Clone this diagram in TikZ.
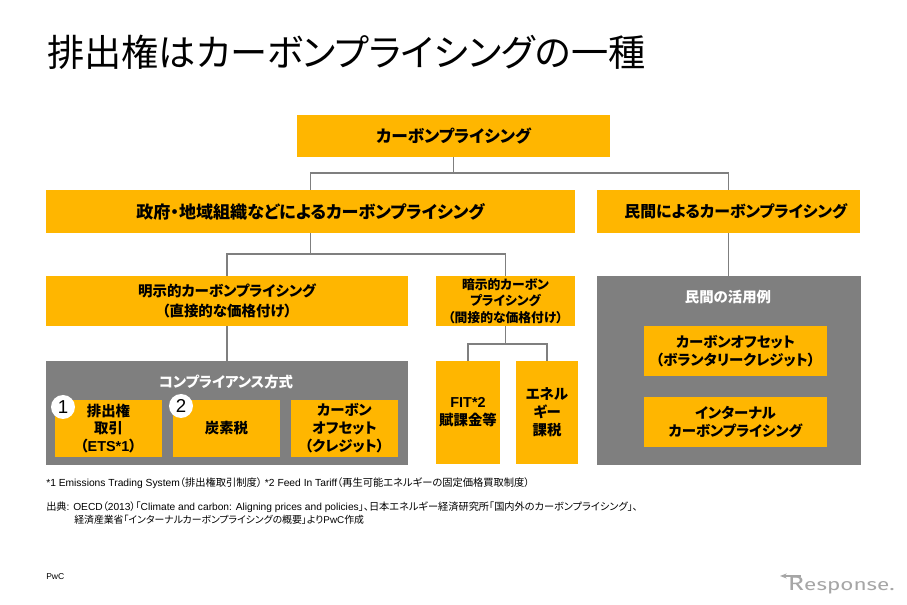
\documentclass[tikz,border=0pt]{standalone}
\usepackage{fontspec}
\usepackage{xcolor}
\setmainfont{Liberation Sans}
\newfontfamily\jpfont[RawFeature=+palt]{Noto Sans CJK JP}
\newfontfamily\logofont{Fira Sans}
\usetikzlibrary{positioning, arrows.meta}
\definecolor{pwcamber}{HTML}{FFB600}
\definecolor{pwcgray}{HTML}{7F7F7F}
\definecolor{logogray}{HTML}{A6A6A6}
\newcommand{\fs}[2]{\fontsize{#1}{#2}\selectfont}

\begin{document}
\begin{tikzpicture}[
  x=0.75pt, y=-0.75pt,
  box/.style={rectangle, fill=pwcamber, inner sep=0pt, align=center, font=\jpfont\bfseries\fs{10.8}{13.4}, text=black, minimum width=#1},
  box/.default=100pt,
  panel/.style={rectangle, fill=pwcgray, inner sep=0pt},
  paneltitle/.style={font=\jpfont\bfseries\fs{10.8}{13}, text=white, inner sep=0pt},
  badge/.style={circle, fill=white, inner sep=0pt, minimum size=18pt, font=\fs{14}{16}},
  note/.style={anchor=west, inner sep=0pt},
  conn/.style={draw=pwcgray, line width=1.3pt}
]
  \useasboundingbox (0,0) rectangle (907,605);

  % Title
  \node[anchor=west, inner sep=0pt, font=\jpfont\fs{27.9}{30}] (title) at (47,52) {排出権はカーボンプライシングの一種};

  % Top row
  \node[box=234.75pt, minimum height=31.5pt, font=\jpfont\bfseries\fs{12.5}{14}] (carbon) at (453.5,136) {カーボンプライシング};
  \node[box=396.75pt, minimum height=32.25pt, font=\jpfont\bfseries\fs{12.8}{14}] (gov) at (310.5,211.5) {政府・地域組織などによるカーボンプライシング};
  \node[box=197.25pt, minimum height=32.25pt, font=\jpfont\bfseries\fs{11.9}{14}] (private) at (728.5,211.5) {\hspace*{11pt}民間によるカーボンプライシング};

  % Explicit and implicit
  \node[box=271.5pt, minimum height=37.5pt, font=\jpfont\bfseries\fs{10.85}{15}] (explicit) at (227,301) {明示的カーボンプライシング\\（直接的な価格付け）};
  \node[box=104.25pt, minimum height=37.5pt, font=\jpfont\bfseries\fs{9.6}{12.4}] (implicit) at (505.5,301) {暗示的カーボン\\プライシング\\（間接的な価格付け）};

  % Compliance panel
  \node[panel, minimum width=271.5pt, minimum height=78pt] (compliance) at (227,413) {};
  \node[paneltitle] (compliancetitle) at (226,382) {コンプライアンス方式};
  \node[box=80.25pt, minimum height=42.75pt] (ets) at (108.5,428.5) {排出権\\取引\\（{\fontspec{Liberation Sans}\bfseries ETS*1}）};
  \node[box=80.25pt, minimum height=42.75pt] (tax) at (226.5,428.5) {炭素税};
  \node[box=80.25pt, minimum height=42.75pt] (credit) at (344.5,428.5) {カーボン\\オフセット\\（クレジット）};
  \node[badge] (one) at (63,407) {1};
  \node[badge] (two) at (181,406) {2};

  % Implicit children
  \node[box=48pt, minimum height=77.25pt] (fit) at (468,412.5) {{\fontspec{Liberation Sans}\bfseries FIT*2}\\賦課金等};
  \node[box=46.5pt, minimum height=77.25pt] (energy) at (547,412.5) {エネル\\ギー\\課税};

  % Private panel
  \node[panel, minimum width=198pt, minimum height=141.75pt] (usage) at (729,370.5) {};
  \node[paneltitle] (usagetitle) at (728,297) {民間の活用例};
  \node[box=137.25pt, minimum height=37.5pt] (voluntary) at (735.5,351) {カーボンオフセット\\（ボランタリークレジット）};
  \node[box=137.25pt, minimum height=37.5pt] (internal) at (735.5,422) {インターナル\\カーボンプライシング};

  % Connections
  \draw[conn] (carbon.south) -- ++(0,16) -| (gov.north);
  \draw[conn] (carbon.south) -- ++(0,16) -| (private.north);
  \draw[conn] (gov.south) -- ++(0,21) -| (explicit.north);
  \draw[conn] (gov.south) -- ++(0,21) -| (implicit.north);
  \draw[conn] (explicit.south) -- (compliance.north);
  \draw[conn] (implicit.south) -- ++(0,18) -| (fit.north);
  \draw[conn] (implicit.south) -- ++(0,18) -| (energy.north);
  \draw[conn] (private.south) -- (private.south |- usage.north);

  % Notes
  \node[note, font=\fs{7.7}{9}] (note1) at (46,483.5) {*1 Emissions Trading System{\jpfont（排出権取引制度）} *2 Feed In Tariff{\jpfont（再生可能エネルギーの固定価格買取制度）}};
  \node[note, font=\fs{7.65}{9}] (source1) at (46,507) {{\jpfont 出典}: OECD{\jpfont（}2013{\jpfont）「}Climate and carbon: Aligning prices and policies{\jpfont」、日本エネルギー経済研究所「国内外のカーボンプライシング」、}};
  \node[note, font=\fs{7.4}{9}] (source2) at (74,520) {{\jpfont 経済産業省「インターナルカーボンプライシングの概要」より}PwC{\jpfont 作成}};
  \node[note, font=\fs{6.4}{8}] (pwc) at (46,577) {PwC};

  % Logo
  \node[anchor=east, inner sep=0pt, text=logogray, font=\logofont, xscale=1.35, transform shape] (logo) at (895,585) {{\fs{15}{18}R}{\fs{12.5}{18}esponse.}};
  \coordinate (logotail) at (801,576);
  \coordinate (logotip) at (780,576);
  \draw[-{Stealth[length=5pt]}, draw=logogray, line width=1.2pt] (logotail) -- (logotip);
\end{tikzpicture}
\end{document}
